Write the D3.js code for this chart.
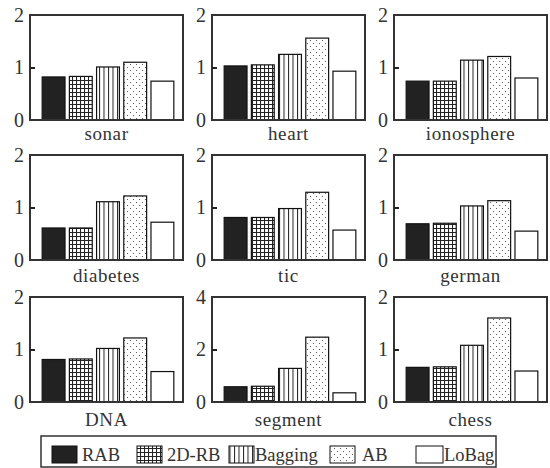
<!DOCTYPE html>
<html><head><meta charset="utf-8">
<script src="https://cdn.jsdelivr.net/npm/d3@7"></script>
<style>body{margin:0;background:#fff}svg{display:block}text{font-family:"Liberation Serif","DejaVu Serif",serif;fill:#333}</style>
</head><body>
<svg id="c" width="550" height="468"></svg>
<script>
const datasets = ["sonar","heart","ionosphere","diabetes","tic","german","DNA","segment","chess"];
const methods = ["RAB","2D-RB","Bagging","AB","LoBag"];
const RAB     = [0.82,1.03,0.74,0.61,0.81,0.69,0.81,0.58,0.66];
const RB2D    = [0.83,1.05,0.74,0.61,0.81,0.70,0.82,0.60,0.67];
const Bagging = [1.01,1.25,1.14,1.11,0.98,1.03,1.02,1.28,1.08];
const AB      = [1.10,1.56,1.21,1.22,1.29,1.13,1.22,2.47,1.60];
const LoBag   = [0.74,0.93,0.80,0.72,0.57,0.55,0.58,0.35,0.59];
const yMax    = [2,2,2,2,2,2,2,4,2];
const series = [RAB, RB2D, Bagging, AB, LoBag];

const svg = d3.select("#c");
const defs = svg.append("defs");
const pg = defs.append("pattern").attr("id","grid").attr("patternUnits","userSpaceOnUse").attr("width",4).attr("height",4);
pg.append("rect").attr("width",4).attr("height",4).attr("fill","#fff");
pg.append("path").attr("d","M0,0.5H4M0.5,0V4").attr("stroke","#222").attr("stroke-width",1.1);
const pv = defs.append("pattern").attr("id","vert").attr("patternUnits","userSpaceOnUse").attr("width",4.5).attr("height",4);
pv.append("rect").attr("width",4.5).attr("height",4).attr("fill","#fff");
pv.append("path").attr("d","M0.5,0V4").attr("stroke","#222").attr("stroke-width",1);
const pd = defs.append("pattern").attr("id","dots").attr("patternUnits","userSpaceOnUse").attr("width",6).attr("height",6);
pd.append("rect").attr("width",6).attr("height",6).attr("fill","#fff");
pd.append("circle").attr("cx",1.5).attr("cy",1.5).attr("r",0.6).attr("fill","#444");
pd.append("circle").attr("cx",4.5).attr("cy",4.5).attr("r",0.6).attr("fill","#444");
const fills = ["#222","url(#grid)","url(#vert)","url(#dots)","#fff"];

const colX = [30,212,394], colW = 153;
const rowY = [15,155,297], rowH = 105;
const labelY = [140,282,426];

datasets.forEach((name,i)=>{
  const c = i%3, r = Math.floor(i/3);
  const x0 = colX[c], y0 = rowY[r];
  const g = svg.append("g");
  const x = d3.scaleBand().domain(methods).range([x0+10, x0+colW-7]).paddingInner(0.16).paddingOuter(0.08);
  const y = d3.scaleLinear().domain([0,yMax[i]]).range([y0+rowH, y0]);
  g.selectAll("rect.bar").data(methods).join("rect").attr("class","bar")
    .attr("x",m=>x(m)).attr("width",x.bandwidth())
    .attr("y",(m,k)=>y(series[k][i])).attr("height",(m,k)=>y(0)-y(series[k][i]))
    .attr("fill",(m,k)=>fills[k]).attr("stroke","#111").attr("stroke-width",1.2);
  g.append("rect").attr("x",x0).attr("y",y0).attr("width",colW).attr("height",rowH)
    .attr("fill","none").attr("stroke","#333").attr("stroke-width",2);
  const ticks = [0, yMax[i]/2, yMax[i]];
  const ax = g.append("g").attr("transform",`translate(${x0},0)`)
    .call(d3.axisLeft(y).tickValues(ticks).tickSize(-5).tickPadding(6).tickFormat(d3.format("d")));
  ax.select(".domain").remove();
  ax.selectAll(".tick line").attr("stroke","#222").attr("stroke-width",2).attr("opacity",(d,k)=>k===1?1:0);
  ax.selectAll(".tick text").attr("font-size",20).attr("fill","#333").style("font-family","Liberation Serif");
  g.append("text").attr("x",x0+colW/2).attr("y",labelY[r]).attr("text-anchor","middle")
    .attr("font-size",19).attr("letter-spacing",0.6).text(name);
});

const lg = svg.append("g");
lg.append("rect").attr("x",41).attr("y",436).attr("width",455).attr("height",31)
  .attr("fill","#fff").attr("stroke","#333").attr("stroke-width",1.5);
const legX = [52,137,229,330,416], legTextX = [82,167,255,362,444];
methods.forEach((m,k)=>{
  lg.append("rect").attr("x",legX[k]).attr("y",446).attr("width",k===4?27:25).attr("height",17)
    .attr("fill",fills[k]).attr("stroke","#111").attr("stroke-width",1);
  lg.append("text").attr("x",legTextX[k]).attr("y",461).attr("font-size",18.5).text(m);
});
</script>
</body></html>
